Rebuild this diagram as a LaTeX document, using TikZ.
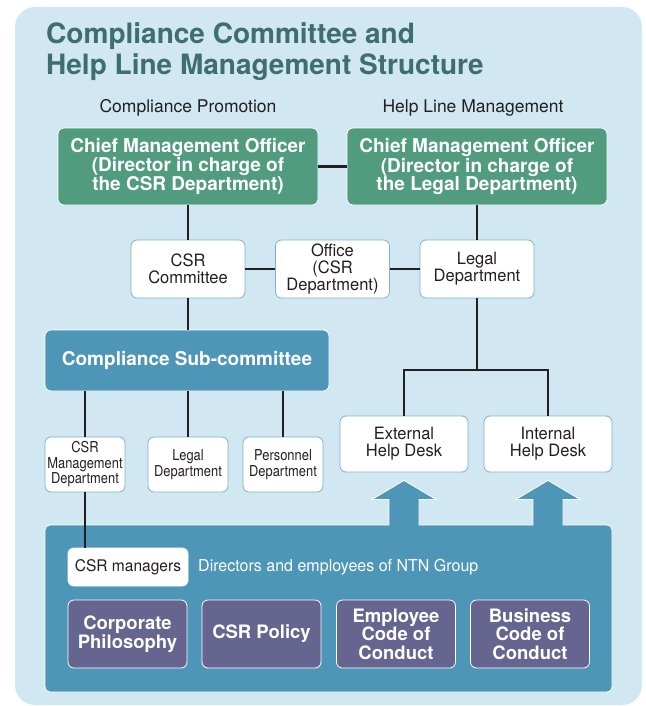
\documentclass[tikz,border=0pt]{standalone}
\usepackage{fontspec}
\setmainfont{TeX Gyre Heros}
\newfontfamily\cndfont[FakeStretch=0.97]{TeX Gyre Heros}
\newfontfamily\nrwfont[FakeStretch=0.86]{TeX Gyre Heros}
\usetikzlibrary{calc}
\definecolor{bgblue}{HTML}{D1E8F3}
\definecolor{tealbox}{HTML}{4E96B8}
\definecolor{greenbox}{HTML}{519B7E}
\definecolor{purplebox}{HTML}{65658F}
\definecolor{titlecol}{HTML}{3E6D72}
\definecolor{boxedge}{HTML}{7FB0CA}
\definecolor{txtgray}{HTML}{231F20}

\begin{document}
\begin{tikzpicture}[x=1pt,y=-1pt,
  ttl/.style={inner sep=0pt,text=titlecol,font=\fontsize{28}{30}\selectfont\bfseries},
  sec/.style={inner sep=0pt,text=txtgray,font=\fontsize{17.5}{18}\selectfont},
  gbox/.style={draw=white,fill=greenbox,rounded corners=6pt,line width=0.8pt,align=center,text=white,
    minimum width=260pt,minimum height=77pt,inner sep=0pt,font=\fontsize{19}{18}\selectfont\bfseries},
  wbox/.style={draw=boxedge,fill=white,rounded corners=6pt,line width=0.8pt,align=center,text=txtgray,
    inner sep=0pt,font=\cndfont\fontsize{17}{17}\selectfont},
  sbox/.style={wbox,minimum width=80pt,minimum height=55pt,font=\nrwfont\fontsize{15}{15.5}\selectfont},
  pbox/.style={draw=white,fill=purplebox,rounded corners=6pt,line width=0.8pt,align=center,text=white,
    minimum width=119pt,minimum height=68pt,inner sep=0pt,font=\fontsize{18.5}{18.5}\selectfont\bfseries},
  conn/.style={draw=txtgray,line width=2.2pt}]
\useasboundingbox (0,0) rectangle (645,706);
\fill[bgblue,rounded corners=20pt] (15,7) rectangle (642,705);

% title
\node[ttl,anchor=base west] (t1) at (46,44) {Compliance Committee and};
\node[ttl,anchor=base west] (t2) at (46,75) {Help Line Management Structure};
\node[sec] (s1) at (188,108) {Compliance Promotion};
\node[sec] (s2) at (473,108) {Help Line Management};

% officers and committees
\node[gbox] (g1) at (188,166.5) {Chief Management Officer\\(Director in charge of\\the CSR Department)};
\node[gbox] (g2) at (477,166.5) {Chief Management Officer\\(Director in charge of\\the Legal Department)};
\node[wbox,minimum width=114pt,minimum height=58pt] (csr) at (188,269) {CSR\\Committee};
\node[wbox,minimum width=114pt,minimum height=58pt] (off) at (332.5,269) {Office\\(CSR\\Department)};
\node[wbox,minimum width=114pt,minimum height=58pt] (leg) at (477,269) {Legal\\Department};
\node[draw=white,fill=tealbox,rounded corners=6pt,line width=0.8pt,text=white,minimum width=284pt,
  minimum height=61pt,font=\fontsize{19}{18}\selectfont\bfseries] (sub) at (187,360.5) {Compliance Sub-committee};
\node[sbox] (cm) at (85,464.5) {CSR\\Management\\Department};
\node[sbox] (ld) at (188,464.5) {Legal\\Department};
\node[sbox] (pd) at (283,464.5) {Personnel\\Department};
\node[wbox,minimum width=128pt,minimum height=56pt] (ext) at (404,444) {External\\Help Desk};
\node[wbox,minimum width=128pt,minimum height=56pt] (int) at (548,444) {Internal\\Help Desk};

% group
\node[draw=white,fill=tealbox,rounded corners=5pt,line width=0.8pt,minimum width=567pt,minimum height=167pt] (grp) at (328.5,608.5) {};
\foreach \n in {ext,int}{
  \fill[tealbox] ($(\n.south)+(0,8)$) -- ++(32,19) -- ++(-17,0) -- ++(0,27) -- ++(-30,0) -- ++(0,-27) -- ++(-17,0) -- cycle;
  \draw[white,line width=0.8pt] ($(\n.south)+(15,53)$) -- ++(0,-26) -- ++(17,0) -- ++(-32,-19) -- ++(-32,19) -- ++(17,0) -- ++(0,26);
}
\node[wbox,draw=white,minimum width=120pt,minimum height=38pt,font=\cndfont\fontsize{16}{17}\selectfont] (mgr) at (128,567) {CSR managers};
\node[anchor=west,inner sep=0pt,text=white,font=\cndfont\fontsize{16.5}{17}\selectfont] (dir) at (198,567) {Directors and employees of NTN Group};
\node[pbox] (p1) at (127.5,634) {Corporate\\Philosophy};
\node[pbox] (p2) at (261.5,634) {CSR Policy};
\node[pbox] (p3) at (396,634) {Employee\\Code of\\Conduct};
\node[pbox] (p4) at (530,634) {Business\\Code of\\Conduct};

% connectors
\draw[conn] (g1.east) -- (g2.west);
\draw[conn] (g1.south) -- (csr.north);
\draw[conn] (g2.south) -- (leg.north);
\draw[conn] (csr.east) -- (off.west);
\draw[conn] (off.east) -- (leg.west);
\draw[conn] (csr.south) -- (csr.south |- sub.north);
\coordinate (j) at (477,370);
\draw[conn] (leg.south) -- (j);
\draw[conn] (ext.north) -- (ext.north |- j) -- (int.north |- j) -- (int.north);
\foreach \n in {cm,ld,pd}
  \draw[conn] (\n.north |- sub.south) -- (\n.north);
\draw[conn] (cm.south) -- (cm.south |- mgr.north);
\end{tikzpicture}
\end{document}
